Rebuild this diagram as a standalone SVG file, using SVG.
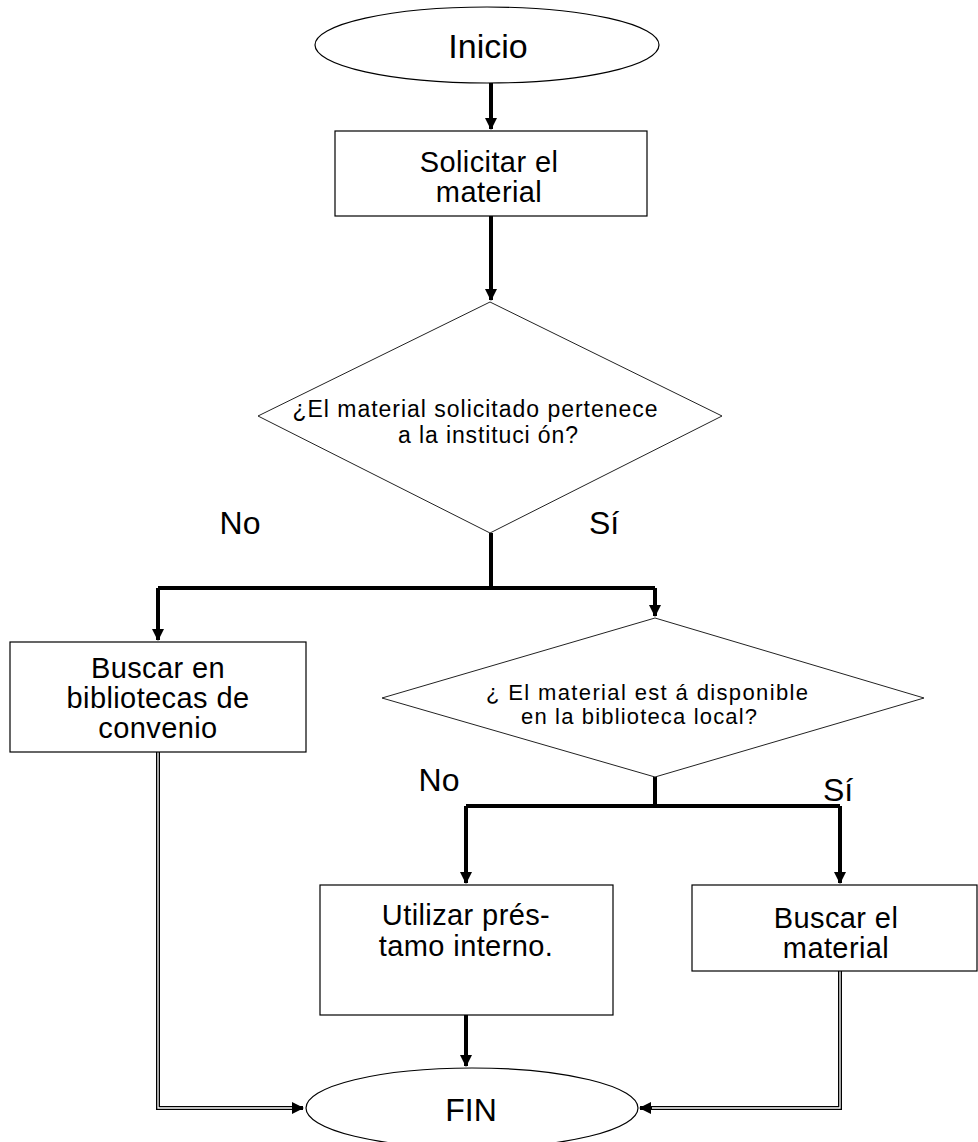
<svg xmlns="http://www.w3.org/2000/svg" width="978" height="1142" viewBox="0 0 978 1142">
<defs>
<marker id="arr" viewBox="0 0 12 12" refX="11" refY="6" markerWidth="12" markerHeight="12" markerUnits="userSpaceOnUse" orient="auto">
<path d="M0,0 L12,6 L0,12 Z" fill="#000"/>
</marker>
<style>
.shape{fill:#fff;stroke:#000;stroke-width:1.2}
.dia{fill:#fff;stroke:#222;stroke-width:1}
.t{font-family:"Liberation Sans",Arial,sans-serif;fill:#000;text-anchor:middle}
.big{font-size:29px;letter-spacing:0.4px}
.lbl{font-size:32px}
.sm{font-size:22px}
.c{fill:none;stroke:#000;stroke-width:4}
.dbl{fill:none;stroke:#fff;stroke-width:1.3}
</style>
</defs>
<rect width="978" height="1142" fill="#fff"/>

<g id="connectors">
<path class="c" d="M491,83 V129" marker-end="url(#arr)"/>
<path class="c" d="M491,216 V300" marker-end="url(#arr)"/>
<path class="c" d="M491,533 V588"/>
<path class="c" d="M158,588 H655"/>
<path class="c" d="M158,588 V640" marker-end="url(#arr)"/>
<path class="c" d="M655,588 V616" marker-end="url(#arr)"/>
<path class="c" d="M655,777 V806"/>
<path class="c" d="M466,806 H840"/>
<path class="c" d="M466,806 V883" marker-end="url(#arr)"/>
<path class="c" d="M840,806 V883" marker-end="url(#arr)"/>
<path class="c" d="M466,1015 V1066" marker-end="url(#arr)"/>
<path class="c" d="M158,752 V1108 H303" marker-end="url(#arr)"/>
<path class="dbl" d="M158,752 V1108 H292"/>
<path class="c" d="M840,971 V1108 H640" marker-end="url(#arr)"/>
<path class="dbl" d="M840,971 V1108 H652"/>
</g>

<g id="inicio">
<ellipse class="shape" cx="487" cy="45" rx="172" ry="38"/>
<text class="t" x="488" y="58" font-size="34">Inicio</text>
</g>

<g id="solicitar">
<rect class="shape" x="335" y="131" width="312" height="85"/>
<text class="t big" x="489" y="172">Solicitar el</text>
<text class="t big" x="489" y="202">material</text>
</g>

<g id="decision1">
<polygon class="dia" points="490,302 722,416 490,533 258,416"/>
<text class="t" x="475" y="417" font-size="23" textLength="365" lengthAdjust="spacing">¿El material solicitado pertenece</text>
<text class="t" x="488" y="443" font-size="23" textLength="180" lengthAdjust="spacing">a la instituci ón?</text>
</g>

<g id="label-no1"><text class="t lbl" x="240" y="534">No</text></g>
<g id="label-si1"><text class="t lbl" x="604" y="534">Sí</text></g>

<g id="buscar-convenio">
<rect class="shape" x="10" y="642" width="296" height="110"/>
<text class="t big" x="158" y="678">Buscar en</text>
<text class="t big" x="158" y="708">bibliotecas de</text>
<text class="t big" x="158" y="738">convenio</text>
</g>

<g id="decision2">
<polygon class="dia" points="655,618 924,698 655,777 382,698"/>
<text class="t sm" x="647" y="700" textLength="322" lengthAdjust="spacing">¿ El material est á disponible</text>
<text class="t sm" x="639" y="724" textLength="236" lengthAdjust="spacing">en la biblioteca local?</text>
</g>

<g id="label-no2"><text class="t lbl" x="439" y="791">No</text></g>
<g id="label-si2"><text class="t lbl" x="838" y="801">Sí</text></g>

<g id="prestamo">
<rect class="shape" x="320" y="885" width="293" height="130"/>
<text class="t big" x="466" y="925">Utilizar prés-</text>
<text class="t big" x="466" y="956">tamo interno.</text>
</g>

<g id="buscar-material">
<rect class="shape" x="692" y="885" width="285" height="86"/>
<text class="t big" x="836" y="928">Buscar el</text>
<text class="t big" x="836" y="958">material</text>
</g>

<g id="fin">
<ellipse class="shape" cx="472" cy="1108" rx="166" ry="40"/>
<text class="t" x="471" y="1121" font-size="32">FIN</text>
</g>
</svg>
